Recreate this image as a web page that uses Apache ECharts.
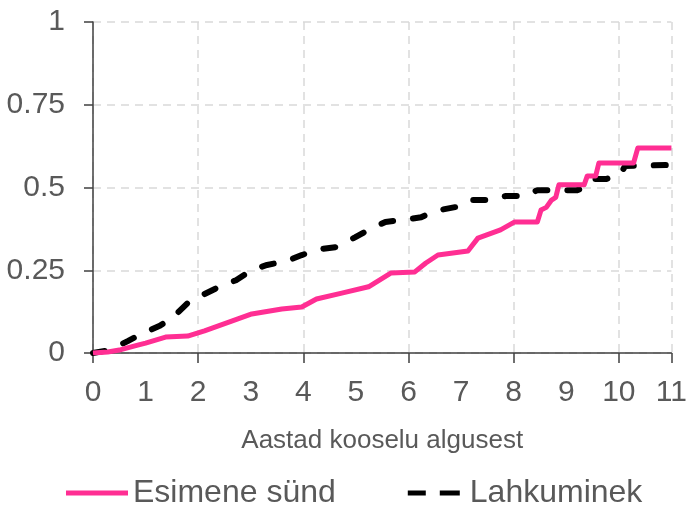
<!DOCTYPE html>
<html>
<head>
<meta charset="utf-8">
<script src="https://cdn.jsdelivr.net/npm/echarts@6/dist/echarts.min.js"></script>
<style>
  html, body { margin: 0; padding: 0; background: #fff; }
  #chart { width: 690px; height: 505px; }
</style>
</head>
<body>
<div id="chart"></div>
<script>
// andmed (loetud pildilt)
var seriesNames = ['Esimene sünd', 'Lahkuminek'];
var xTicks = [0, 1, 2, 3, 4, 5, 6, 7, 8, 9, 10, 11];
var yTicks = [0, 0.25, 0.5, 0.75, 1];

var birthX = [0, 0.28, 0.53, 0.85, 1.0, 1.38, 1.80, 2.12, 2.65, 3.02, 3.59, 3.97, 4.25, 4.73, 5.24, 5.67, 6.12, 6.33, 6.56, 7.13, 7.32, 7.75, 8.02, 8.45, 8.52, 8.62, 8.72, 8.80, 8.86, 9.34, 9.40, 9.56, 9.62, 10.28, 10.36, 11];
var birthY = [0, 0.003, 0.01, 0.024, 0.03, 0.048, 0.051, 0.067, 0.097, 0.118, 0.133, 0.139, 0.163, 0.181, 0.2, 0.242, 0.245, 0.272, 0.296, 0.308, 0.347, 0.372, 0.396, 0.396, 0.432, 0.44, 0.462, 0.47, 0.508, 0.508, 0.535, 0.535, 0.574, 0.574, 0.619, 0.619];

var sepX = [0, 0.32, 0.66, 0.91, 1.27, 1.55, 1.80, 2.12, 2.40, 2.72, 3.02, 3.31, 3.69, 3.97, 4.33, 4.63, 4.99, 5.24, 5.56, 5.90, 6.24, 6.50, 6.90, 7.13, 7.54, 7.84, 8.22, 8.45, 9.21, 9.45, 9.55, 9.77, 10.02, 10.12, 11];
var sepY = [0, 0.009, 0.036, 0.057, 0.082, 0.112, 0.151, 0.178, 0.2, 0.22, 0.251, 0.266, 0.278, 0.296, 0.314, 0.32, 0.35, 0.372, 0.396, 0.402, 0.41, 0.429, 0.441, 0.462, 0.462, 0.474, 0.474, 0.492, 0.492, 0.507, 0.526, 0.526, 0.538, 0.565, 0.568];

var pink = '#ff2e93';
var textFont = "'Liberation Sans', Arial, sans-serif";

function zip(xs, ys) {
    var out = [];
    for (var i = 0; i < xs.length; i++) {
        out.push([xs[i], ys[i]]);
    }
    return out;
}

var myChart = echarts.init(document.getElementById('chart'), null, { renderer: 'canvas' });

var option = {
    animation: false,
    grid: { left: 93, right: 15, top: 22, bottom: 152, containLabel: false },
    legend: {
        top: 472,
        left: 61,
        itemWidth: 62,
        itemHeight: 5,
        itemGap: 72,
        textStyle: { fontFamily: textFont, fontSize: 32, color: '#595959' },
        data: [
            { name: seriesNames[0], icon: 'path://M0,0H62V5H0Z' },
            { name: seriesNames[1], icon: 'path://M0,0H18V5H0ZM32,0H52V5H32Z' }
        ]
    },
    xAxis: [{
        type: 'value',
        min: xTicks[0],
        max: xTicks[xTicks.length - 1],
        interval: 1,
        name: 'Aastad kooselu algusest',
        nameLocation: 'middle',
        nameGap: 75,
        nameTextStyle: { fontFamily: textFont, fontSize: 26, color: '#595959' },
        axisLine: { lineStyle: { color: '#404040', width: 1.5 } },
        axisTick: { show: false },
        splitLine: { show: false },
        axisLabel: { fontFamily: textFont, fontSize: 30, color: '#595959', margin: 25 }
    }, {
        // gridlines and ticks every 2 years
        type: 'value',
        min: 0,
        max: 11,
        interval: 2,
        position: 'bottom',
        axisLine: { show: false },
        axisTick: { show: true, length: 10, lineStyle: { color: '#404040', width: 1.5 } },
        axisLabel: { show: false },
        splitLine: { show: true, lineStyle: { color: '#d9d9d9', type: [8, 6], width: 1.5 } }
    }],
    yAxis: {
        type: 'value',
        min: yTicks[0],
        max: yTicks[yTicks.length - 1],
        interval: 0.25,
        axisLine: { show: true, lineStyle: { color: '#404040', width: 1.5 } },
        axisTick: { show: true, length: 9, lineStyle: { color: '#404040', width: 1.5 } },
        axisLabel: { fontFamily: textFont, fontSize: 30, color: '#595959', margin: 28 },
        splitLine: { show: true, lineStyle: { color: '#d9d9d9', type: [8, 6], width: 1.5 } }
    },
    series: [{
        name: seriesNames[0],
        type: 'line',
        xAxisIndex: 0,
        data: zip(birthX, birthY),
        showSymbol: false,
        symbol: 'none',
        lineStyle: { color: pink, width: 5, join: 'round' },
        itemStyle: { color: pink },
        z: 3
    }, {
        name: seriesNames[1],
        type: 'line',
        xAxisIndex: 0,
        data: zip(sepX, sepY),
        showSymbol: false,
        symbol: 'none',
        lineStyle: { color: '#000', width: 6, type: [12, 20], cap: 'round', join: 'round' },
        itemStyle: { color: '#000' },
        z: 2
    }]
};

myChart.setOption(option);
</script>
</body>
</html>
